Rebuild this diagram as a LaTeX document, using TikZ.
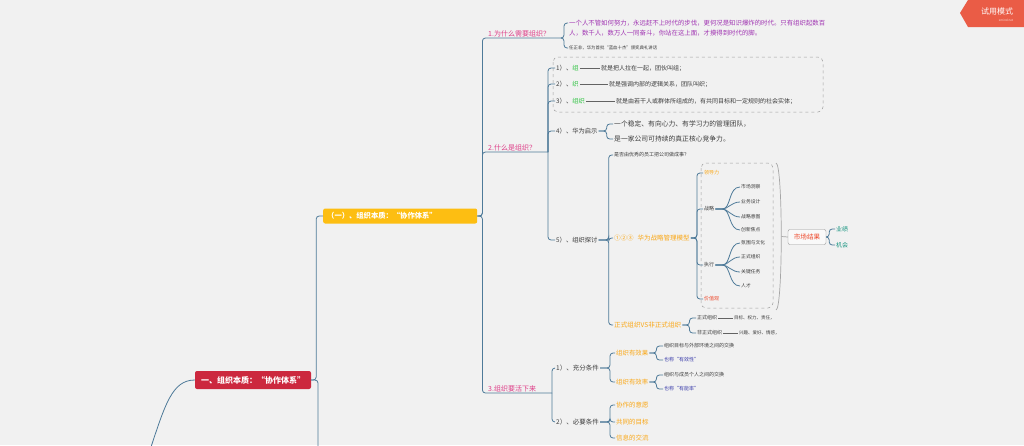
\documentclass[tikz,border=0pt]{standalone}
\usepackage{fontspec}
\setmainfont{Noto Sans CJK SC}
\usetikzlibrary{positioning}
\definecolor{bgc}{RGB}{241,241,241}
\definecolor{linkc}{RGB}{78,122,153}
\definecolor{rootc}{RGB}{204,40,62}
\definecolor{yelc}{RGB}{253,190,18}
\definecolor{pinkc}{RGB}{222,62,136}
\definecolor{purpc}{RGB}{160,52,178}
\definecolor{orac}{RGB}{250,168,24}
\definecolor{grnc}{RGB}{52,196,70}
\definecolor{tealc}{RGB}{26,150,130}
\definecolor{redc}{RGB}{238,70,40}
\definecolor{bluec}{RGB}{58,60,170}
\definecolor{txtc}{RGB}{60,60,60}
\definecolor{badgec}{RGB}{234,92,70}
\newcommand{\fsz}[1]{\fontsize{#1}{#1}\selectfont}

\begin{document}
\begin{tikzpicture}[x=1pt, y=-1pt,
  link/.style={draw=linkc, line width=0.8pt, rounded corners=3pt},
  tick/.style={draw=txtc!80, line width=0.6pt},
  txt/.style={anchor=west, inner sep=1pt, text=txtc, align=left},
  topic/.style={anchor=south west, inner sep=1pt, text=pinkc, font=\fsz{7}},
  boxed/.style={draw=gray!75, dashed, line width=0.5pt, rounded corners=5pt},
  sumline/.style={draw=gray!70, line width=0.7pt}]
  % background
  \fill[bgc] (0,0) rectangle (1024,445);
  \useasboundingbox (0,0) rectangle (1024,445);
  % trial badge
  \fill[badgec] (960,13) -- (968,0) -- (1024,0) -- (1024,27) -- (968,27) -- cycle;
  \node[text=white, font=\fsz{8}, inner sep=0pt] (trial) at (997,11) {试用模式};
  \node[text=white!80!badgec, font=\fsz{3}, inner sep=0pt] (trialsub) at (1006,20) {xmind.net};

  % root and first level
  \node[fill=rootc, text=white, rounded corners=2pt, font=\fsz{8}\bfseries, minimum height=18pt, inner xsep=6pt] (root) at (253,380) {一、组织本质：“协作体系”};
  \node[fill=yelc, text=white, rounded corners=2pt, font=\fsz{7.3}\bfseries, anchor=west, minimum height=15pt, text width=146pt, inner xsep=4pt, align=left] (sub) at (323,216) {（一）、组织本质：“协作体系”};
  \coordinate (in) at (150,450);
  \coordinate (down) at (318,450);
  \draw[link] (in) .. controls (165,405) and (172,380) .. (root.west);
  \draw[link] (root.east) -- ++(5,0) |- (sub.west);
  \draw[link] (root.east) -| (down);

  % three topics
  \node[topic] (t1) at (487,38) {1.为什么需要组织？};
  \coordinate (t1e) at (561,38);
  \node[topic] (t2) at (487,152) {2.什么是组织？};
  \coordinate (t2e) at (548,152);
  \node[topic] (t3) at (487,393) {3.组织要活下来};
  \coordinate (t3e) at (552,393);
  \draw[link] (sub.east) -- ++(5,0) |- (t1e);
  \draw[link] (sub.east) -- ++(5,0) |- (t2e);
  \draw[link] (sub.east) -- ++(5,0) |- (t3e);

  % 1. why
  \node[txt, text=purpc, font=\fontsize{6.4}{10}\selectfont] (q1) at (568,28) {一个人不管如何努力，永远赶不上时代的步伐，更何况是知识爆炸的时代。只有组织起数百\\人，数千人，数万人一同奋斗，你站在这上面，才摸得到时代的脚。};
  \node[txt, font=\fsz{4.4}] (q2) at (568,48) {任正非，华为首批“蓝血十杰”颁奖典礼讲话};
  \draw[link] (t1e) -- ++(3,0) |- ([yshift=5pt]q1.west);
  \draw[link] (t1e) -- ++(3,0) |- (q2.west);

  % 2. what
  \draw[boxed] (553,57) rectangle (823,112);
  \node[txt, font=\fsz{6.3}] (s1) at (555,68) {1）、\textcolor{grnc}{组}};
  \node[txt, font=\fsz{6}] (d1) at (600,68) {就是把人拉在一起，团伙叫组；};
  \node[txt, font=\fsz{6.3}] (s2) at (555,84) {2）、\textcolor{grnc}{织}};
  \node[txt, font=\fsz{6}] (d2) at (608,84) {就是强调内部的逻辑关系，团队叫织；};
  \node[txt, font=\fsz{6.3}] (s3) at (555,101) {3）、\textcolor{grnc}{组织}};
  \node[txt, font=\fsz{6}] (d3) at (615,101) {就是由若干人或群体所组成的，有共同目标和一定规则的社会实体；};
  \draw[tick] (s1.east) -- (d1.west);
  \draw[tick] (s2.east) -- (d2.west);
  \draw[tick] (s3.east) -- (d3.west);
  \node[txt, font=\fsz{6.3}] (s4) at (555,131) {4）、华为启示};
  \node[txt, font=\fsz{6.8}] (h1) at (613,124) {一个稳定、有向心力、有学习力的管理团队，};
  \node[txt, font=\fsz{6.8}] (h2) at (613,139) {是一家公司可持续的真正核心竞争力。};
  \node[txt, font=\fsz{6.3}] (s5) at (555,240) {5）、组织探讨};
  \draw[link] (t2e) |- (s1.west);
  \draw[link] (t2e) |- (s2.west);
  \draw[link] (t2e) |- (s3.west);
  \draw[link] (t2e) |- (s4.west);
  \draw[link] (t2e) |- (s5.west);
  \draw[link] (s4.east) -- ++(8,0) |- (h1.west);
  \draw[link] (s4.east) -- ++(8,0) |- (h2.west);

  % 5) discussion
  \node[txt, font=\fsz{5}] (e1) at (613,155) {是否由优秀的员工把公司做成事？};
  \node[txt, text=orac, font=\fsz{6.5}] (e2) at (613,238) {①②③\hspace{4pt}华为战略管理模型};
  \node[txt, text=orac, font=\fsz{6.6}] (e3) at (613,325) {正式组织VS非正式组织};
  \draw[link] (s5.east) -- ++(10,0) |- (e1.west);
  \draw[link] (s5.east) -- ++(10,0) |- (e2.west);
  \draw[link] (s5.east) -- ++(10,0) |- (e3.west);

  % strategy model
  \draw[boxed] (701,163) rectangle (773,308);
  \node[txt, text=orac, font=\fsz{5}] (b1) at (703,173) {领导力};
  \node[txt, font=\fsz{5}] (b2) at (703,209) {战略};
  \node[txt, font=\fsz{5}] (b3) at (703,265) {执行};
  \node[txt, text=redc, font=\fsz{5}] (b4) at (703,299) {价值观};
  \draw[link] (e2.east) -- ++(6,0) |- (b1.west);
  \draw[link] (e2.east) -- ++(6,0) |- (b2.west);
  \draw[link] (e2.east) -- ++(6,0) |- (b3.west);
  \draw[link] (e2.east) -- ++(6,0) |- (b4.west);
  \node[txt, font=\fsz{4.8}] (m1) at (740,187) {市场洞察};
  \node[txt, font=\fsz{4.8}] (m2) at (740,202) {业务设计};
  \node[txt, font=\fsz{4.8}] (m3) at (740,217) {战略意图};
  \node[txt, font=\fsz{4.8}] (m4) at (740,230) {创新焦点};
  \node[txt, font=\fsz{4.8}] (n1) at (740,243) {氛围与文化};
  \node[txt, font=\fsz{4.8}] (n2) at (740,257) {正式组织};
  \node[txt, font=\fsz{4.8}] (n3) at (740,272) {关键任务};
  \node[txt, font=\fsz{4.8}] (n4) at (740,286) {人才};
  \draw[link] (b2.east) -- ++(4,0) to[out=0,in=180] (m1.west);
  \draw[link] (b2.east) -- ++(4,0) to[out=0,in=180] (m2.west);
  \draw[link] (b2.east) -- ++(4,0) to[out=0,in=180] (m3.west);
  \draw[link] (b2.east) -- ++(4,0) to[out=0,in=180] (m4.west);
  \draw[link] (b3.east) -- ++(4,0) to[out=0,in=180] (n1.west);
  \draw[link] (b3.east) -- ++(4,0) to[out=0,in=180] (n2.west);
  \draw[link] (b3.east) -- ++(4,0) to[out=0,in=180] (n3.west);
  \draw[link] (b3.east) -- ++(4,0) to[out=0,in=180] (n4.west);

  % summary to market result
  \coordinate (sumt) at (776,163);
  \coordinate (sumb) at (776,310);
  \coordinate (summ) at (781.5,236.5);
  \draw[sumline] (sumt) .. controls (783,164) and (783,309) .. (sumb);
  \node[draw=gray!80, fill=white!60!bgc, rounded corners=2pt, text=redc, font=\fsz{6.6}, minimum width=38pt, minimum height=15pt, inner sep=1pt] (mk) at (807,237) {市场结果};
  \draw[sumline] (summ) -- (mk.west);
  \node[txt, text=tealc, font=\fsz{6}] (g1) at (835,229) {业绩};
  \node[txt, text=tealc, font=\fsz{6}] (g2) at (835,245) {机会};
  \draw[link] (mk.east) -- ++(3,0) |- (g1.west);
  \draw[link] (mk.east) -- ++(3,0) |- (g2.west);

  % formal vs informal
  \node[txt, font=\fsz{5}] (f1) at (696,318) {正式组织};
  \node[txt, font=\fsz{4.5}] (f1d) at (733,318) {目标、权力、责任，};
  \node[txt, font=\fsz{5}] (f2) at (696,333) {非正式组织};
  \node[txt, font=\fsz{4.5}] (f2d) at (738,333) {兴趣、爱好、情感，};
  \draw[link] (e3.east) -- ++(7,0) |- (f1.west);
  \draw[link] (e3.east) -- ++(7,0) |- (f2.west);
  \draw[tick] (f1.east) -- (f1d.west);
  \draw[tick] (f2.east) -- (f2d.west);

  % 3. survive
  \node[txt, font=\fsz{6.5}] (r1) at (555,368) {1）、充分条件};
  \node[txt, font=\fsz{6.5}] (r2) at (555,422) {2）、必要条件};
  \draw[link] (t3e) |- (r1.west);
  \draw[link] (t3e) |- (r2.west);
  \node[txt, text=orac, font=\fsz{6.4}] (u1) at (615,353) {组织有效果};
  \node[txt, text=orac, font=\fsz{6.4}] (u2) at (615,382) {组织有效率};
  \draw[link] (r1.east) -- ++(10,0) |- (u1.west);
  \draw[link] (r1.east) -- ++(10,0) |- (u2.west);
  \node[txt, font=\fsz{5}] (v1) at (663,346) {组织目标与外部环境之间的交换};
  \node[txt, text=bluec, font=\fsz{5}] (v2) at (663,360) {也称“有效性”};
  \node[txt, font=\fsz{5}] (v3) at (663,375) {组织与成员个人之间的交换};
  \node[txt, text=bluec, font=\fsz{5}] (v4) at (663,389) {也称“有能率”};
  \draw[link] (u1.east) -- ++(7,0) |- (v1.west);
  \draw[link] (u1.east) -- ++(7,0) |- (v2.west);
  \draw[link] (u2.east) -- ++(7,0) |- (v3.west);
  \draw[link] (u2.east) -- ++(7,0) |- (v4.west);
  \node[txt, text=orac, font=\fsz{6.5}] (w1) at (615,405) {协作的意愿};
  \node[txt, text=orac, font=\fsz{6.5}] (w2) at (615,422) {共同的目标};
  \node[txt, text=orac, font=\fsz{6.5}] (w3) at (615,438) {信息的交流};
  \draw[link] (r2.east) -- ++(10,0) |- (w1.west);
  \draw[link] (r2.east) -- ++(10,0) |- (w2.west);
  \draw[link] (r2.east) -- ++(10,0) |- (w3.west);
\end{tikzpicture}
\end{document}
